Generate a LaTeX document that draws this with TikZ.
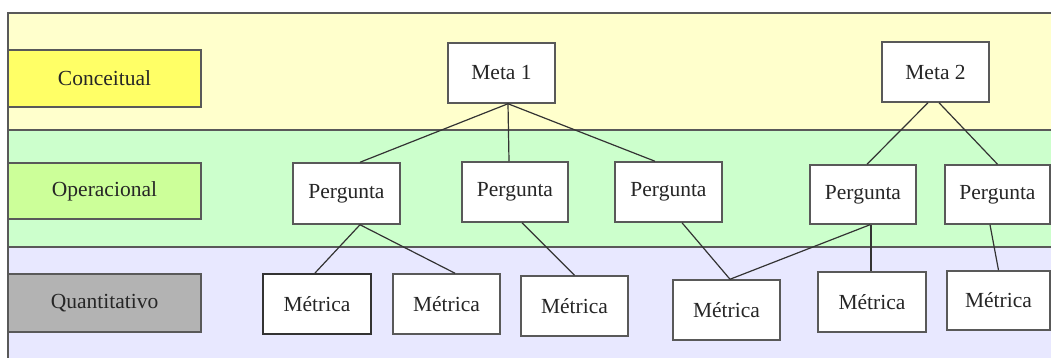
\documentclass[tikz,border=0pt]{standalone}
\usepackage{fontspec}
\setmainfont{Liberation Serif}
\begin{document}
\begin{tikzpicture}[x=1pt,y=-1pt,
  bandline/.style={draw=black!65,line width=1.5pt},
  levelbox/.style={draw=black!65,line width=1.5pt,minimum width=193pt,inner sep=0pt,
    font=\fontsize{21.5}{24}\selectfont,text=black!85},
  itembox/.style={draw=black!65,fill=white,line width=1.5pt,minimum width=107pt,
    minimum height=60pt,inner sep=0pt,font=\fontsize{21.5}{24}\selectfont,text=black!85},
  link/.style={draw=black!80,line width=1.2pt}]
\definecolor{bandA}{HTML}{FFFFCC}
\definecolor{bandB}{HTML}{CCFFCC}
\definecolor{bandC}{HTML}{E8E8FF}
\definecolor{lvlA}{HTML}{FFFF66}
\definecolor{lvlB}{HTML}{CCFF99}
\definecolor{lvlC}{HTML}{B3B3B3}
\useasboundingbox (0,0) rectangle (1051,358);
\clip (0,0) rectangle (1051,358);
\fill[white] (0,0) rectangle (1051,358);

% three horizontal levels
\fill[bandA] (8,13) rectangle (1060,130);
\fill[bandB] (8,130) rectangle (1060,247);
\fill[bandC] (8,247) rectangle (1060,370);
\draw[bandline] (8,370) -- (8,13) -- (1060,13);
\draw[bandline] (8,130) -- (1060,130);
\draw[bandline] (8,247) -- (1060,247);

% level labels
\node[levelbox,fill=lvlA,minimum height=57pt] (conc) at (104.5,78.5) {Conceitual};
\node[levelbox,fill=lvlB,minimum height=56pt] (oper) at (104.5,191) {Operacional};
\node[levelbox,fill=lvlC,minimum height=58pt] (quant) at (104.5,303) {Quantitativo};

% goals
\node[itembox] (m1) at (501.5,73) {Meta 1};
\node[itembox] (m2) at (935.5,72) {Meta 2};

% questions
\node[itembox,minimum height=61pt] (p1) at (346.5,193.5) {Pergunta};
\node[itembox,minimum width=106pt] (p2) at (515,192) {Pergunta};
\node[itembox] (p3) at (668.5,192) {Pergunta};
\node[itembox,minimum width=106pt,minimum height=59pt] (p4) at (863,194.5) {Pergunta};
\node[itembox,minimum width=105pt,minimum height=59pt] (p5) at (997.5,194.5) {Pergunta};

% metrics
\node[itembox,minimum width=108pt,draw=black!80,line width=2pt] (q1) at (317,304) {Métrica};
\node[itembox] (q2) at (446.5,304) {Métrica};
\node[itembox] (q3) at (574.5,306) {Métrica};
\node[itembox] (q4) at (726.5,310) {Métrica};
\node[itembox,minimum width=108pt] (q5) at (872,302) {Métrica};
\node[itembox,minimum width=103pt,minimum height=59pt] (q6) at (998.5,300.5) {Métrica};

% goal -> question links
\draw[link] ([xshift=6.5pt]m1.south) -- ([xshift=13.5pt]p1.north);
\draw[link] ([xshift=6.5pt]m1.south) -- ([xshift=-6pt]p2.north);
\draw[link] ([xshift=6.5pt]m1.south) -- ([xshift=-13.5pt]p3.north);
\draw[link] ([xshift=-7.5pt]m2.south) -- ([xshift=4pt]p4.north);
\draw[link] ([xshift=3.5pt]m2.south) -- (p5.north);

% question -> metric links
\draw[link] ([xshift=13.5pt]p1.south) -- ([xshift=-2pt]q1.north);
\draw[link] ([xshift=13.5pt]p1.south) -- ([xshift=8.5pt]q2.north);
\draw[link] ([xshift=7pt]p2.south) -- (q3.north);
\draw[link] ([xshift=13.5pt]p3.south) -- ([xshift=3.5pt]q4.north);
\draw[link] ([xshift=7pt]p4.south) -- ([xshift=3.5pt]q4.north);
\draw[link] ([xshift=8pt]p4.south) -- ([xshift=-1pt]q5.north);
\draw[link] ([xshift=-7.5pt]p5.south) -- (q6.north);
\end{tikzpicture}
\end{document}
